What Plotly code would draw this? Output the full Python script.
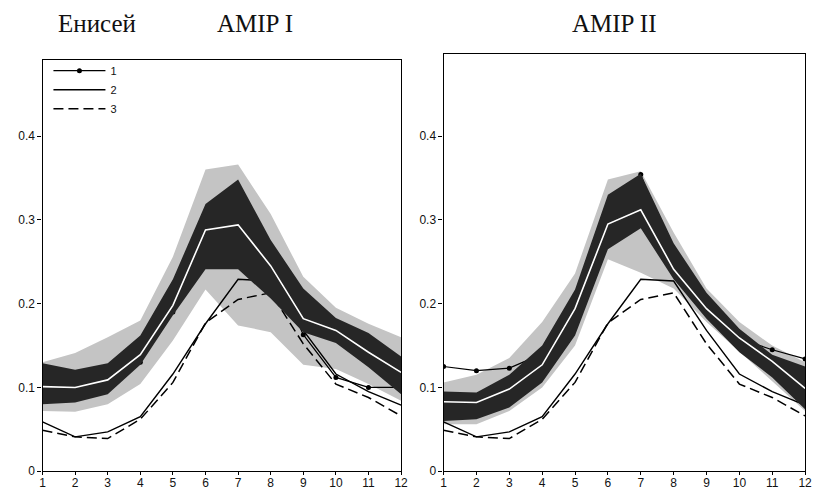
import plotly.graph_objects as go

months = list(range(1, 13))
month_labels = [str(m) for m in months]
y_ticks = [0, 0.1, 0.2, 0.3, 0.4]
y_tick_labels = ["0", "0.1", "0.2", "0.3", "0.4"]

# Observations shared by both panels
obs2 = [0.059, 0.041, 0.047, 0.065, 0.116, 0.176, 0.229, 0.227, 0.168, 0.116, 0.095, 0.079]
obs3 = [0.049, 0.041, 0.039, 0.062, 0.106, 0.177, 0.205, 0.213, 0.152, 0.104, 0.088, 0.066]

# AMIP I
a1_s1 = [0.110, 0.105, 0.110, 0.130, 0.190, 0.280, 0.320, 0.250, 0.163, 0.112, 0.100, 0.100]
a1_mid = [0.101, 0.100, 0.109, 0.139, 0.198, 0.288, 0.294, 0.245, 0.182, 0.168, 0.142, 0.118]
a1_dark_hi = [0.129, 0.121, 0.129, 0.162, 0.229, 0.319, 0.348, 0.276, 0.218, 0.183, 0.165, 0.137]
a1_dark_lo = [0.080, 0.082, 0.092, 0.127, 0.186, 0.241, 0.241, 0.206, 0.166, 0.153, 0.124, 0.092]
a1_light_hi = [0.130, 0.141, 0.160, 0.180, 0.256, 0.360, 0.366, 0.307, 0.232, 0.195, 0.176, 0.160]
a1_light_lo = [0.072, 0.071, 0.080, 0.104, 0.156, 0.217, 0.174, 0.166, 0.127, 0.122, 0.104, 0.084]

# AMIP II
a2_s1 = [0.125, 0.120, 0.123, 0.140, 0.200, 0.310, 0.354, 0.250, 0.200, 0.158, 0.145, 0.134]
a2_mid = [0.083, 0.082, 0.098, 0.127, 0.194, 0.295, 0.312, 0.241, 0.194, 0.159, 0.131, 0.099]
a2_dark_hi = [0.095, 0.094, 0.115, 0.150, 0.217, 0.330, 0.355, 0.272, 0.213, 0.170, 0.139, 0.125]
a2_dark_lo = [0.060, 0.062, 0.076, 0.106, 0.162, 0.265, 0.290, 0.229, 0.182, 0.142, 0.112, 0.074]
a2_light_hi = [0.106, 0.115, 0.135, 0.178, 0.236, 0.348, 0.358, 0.285, 0.218, 0.178, 0.150, 0.130]
a2_light_lo = [0.056, 0.056, 0.072, 0.100, 0.150, 0.253, 0.237, 0.218, 0.178, 0.142, 0.107, 0.072]

LIGHT = "#c4c4c4"
DARK = "#262626"

fig = go.Figure()


def band(hi, lo, color, xa, ya):
    return go.Scatter(
        x=months + months[::-1], y=hi + lo[::-1], fill="toself", fillcolor=color,
        line=dict(width=0), mode="lines", hoverinfo="skip", showlegend=False,
        xaxis=xa, yaxis=ya)


def panel(s1, mid, dhi, dlo, lhi, llo, xa, ya, legend):
    fig.add_trace(band(lhi, llo, LIGHT, xa, ya))
    fig.add_trace(go.Scatter(x=months, y=obs2, mode="lines", name="2", legendrank=2,
                             line=dict(color="black", width=1.4),
                             showlegend=legend, xaxis=xa, yaxis=ya))
    fig.add_trace(go.Scatter(x=months, y=obs3, mode="lines", name="3", legendrank=3,
                             line=dict(color="black", width=1.5, dash="10px,5px"),
                             showlegend=legend, xaxis=xa, yaxis=ya))
    fig.add_trace(go.Scatter(x=months, y=s1, mode="lines+markers", name="1", legendrank=1,
                             line=dict(color="black", width=1.2),
                             marker=dict(color="black", size=5),
                             showlegend=legend, xaxis=xa, yaxis=ya))
    fig.add_trace(band(dhi, dlo, DARK, xa, ya))
    fig.add_trace(go.Scatter(x=months, y=mid, mode="lines",
                             line=dict(color="white", width=1.6),
                             showlegend=False, hoverinfo="skip", xaxis=xa, yaxis=ya))


panel(a1_s1, a1_mid, a1_dark_hi, a1_dark_lo, a1_light_hi, a1_light_lo, "x", "y", True)
panel(a2_s1, a2_mid, a2_dark_hi, a2_dark_lo, a2_light_hi, a2_light_lo, "x2", "y2", False)

W, H = 821, 494
tickfont = dict(family="Liberation Sans, Arial, sans-serif", size=12, color="#111")
xcommon = dict(range=[1, 12], tickvals=months, ticktext=month_labels, ticks="outside",
               ticklen=3, tickwidth=1, tickcolor="black", showline=True, mirror=True,
               linecolor="black", linewidth=1.2, showgrid=False, zeroline=False,
               tickfont=tickfont, ticklabelstandoff=-3)
ycommon = dict(tickvals=y_ticks, ticktext=y_tick_labels, ticks="outside", ticklen=4,
               tickwidth=1, tickcolor="black", showline=True, mirror=True,
               linecolor="black", linewidth=1.2, showgrid=False, zeroline=False,
               tickfont=tickfont)

bottom_px = 478
left_top_px = 61
right_top_px = 55
per_unit = 850.0

fig.update_layout(
    width=W, height=H, margin=dict(l=0, r=0, t=0, b=0),
    paper_bgcolor="white", plot_bgcolor="white",
    xaxis=dict(domain=[40 / W, 403 / W], anchor="y", **xcommon),
    yaxis=dict(domain=[1 - bottom_px / H, 1 - left_top_px / H], anchor="x",
               range=[0, (bottom_px - left_top_px) / per_unit], **ycommon),
    xaxis2=dict(domain=[446 / W, 812 / W], anchor="y2", **xcommon),
    yaxis2=dict(domain=[1 - bottom_px / H, 1 - right_top_px / H], anchor="x2",
                range=[0, (bottom_px - right_top_px) / per_unit], **ycommon),
    showlegend=True,
    legend=dict(x=46 / W, y=1 - 57 / H, xanchor="left", yanchor="top",
                bgcolor="rgba(0,0,0,0)",
                font=dict(family="Liberation Sans, Arial, sans-serif", size=11, color="#111"),
                itemwidth=52, traceorder="normal", tracegroupgap=0),
)

title_font = dict(family="Liberation Serif, Times New Roman, serif", size=25, color="#111")
for txt, cx in [("Енисей", 95), ("AMIP I", 255), ("AMIP II", 619)]:
    fig.add_annotation(text=txt, x=cx / W, y=1 - 24 / H, xref="paper", yref="paper",
                       xanchor="center", yanchor="middle", showarrow=False, font=title_font)

fig.write_html("out.html", config={"displayModeBar": False},
               post_script="document.body.style.margin='0px';")
